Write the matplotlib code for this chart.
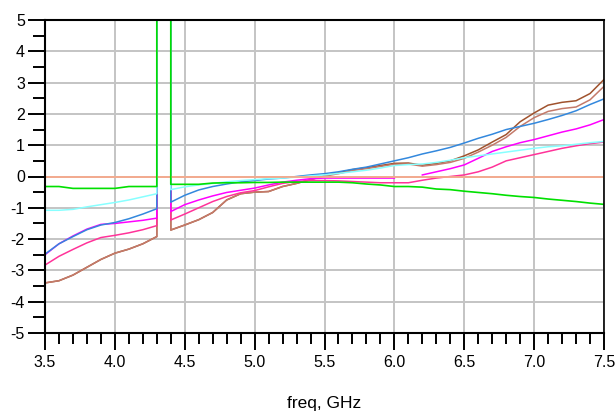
import numpy as np
import matplotlib
matplotlib.use("Agg")
import matplotlib.pyplot as plt
from matplotlib.ticker import MultipleLocator

plt.rcParams['font.family'] = ['Liberation Sans', 'DejaVu Sans']

# frequency grid (GHz): below and above the resonance gap
f_lo = [3.5, 3.6, 3.7, 3.8, 3.9, 4.0, 4.1, 4.2, 4.3]
f_hi = [4.4, 4.5, 4.6, 4.7, 4.8, 4.9, 5.0, 5.1, 5.2, 5.3, 5.4, 5.5, 5.6, 5.7, 5.8, 5.9,
        6.0, 6.1, 6.2, 6.3, 6.4, 6.5, 6.6, 6.7, 6.8, 6.9, 7.0, 7.1, 7.2, 7.3, 7.4, 7.5]
spike = 1000.0   # traces run off the top between 4.3 and 4.4 GHz
ref_level = 0.0

brown_lo = [-3.4, -3.33, -3.15, -2.9, -2.65, -2.45, -2.32, -2.15, -1.92]
brown_hi = [-1.71, -1.55, -1.38, -1.15, -0.75, -0.55, -0.5, -0.48, -0.32, -0.22, -0.1, 0.03,
            0.12, 0.22, 0.28, 0.35, 0.42, 0.43, 0.36, 0.42, 0.5, 0.66, 0.85, 1.1, 1.34, 1.75,
            2.03, 2.28, 2.37, 2.42, 2.65, 3.1]
rosy_lo = [-3.4, -3.33, -3.15, -2.9, -2.65, -2.45, -2.32, -2.15, -1.92]
rosy_hi = [-1.71, -1.55, -1.38, -1.15, -0.75, -0.55, -0.5, -0.48, -0.32, -0.22, -0.1, 0.01,
           0.09, 0.19, 0.25, 0.32, 0.39, 0.4, 0.33, 0.38, 0.45, 0.58, 0.78, 1.0, 1.25, 1.6,
           1.88, 2.08, 2.17, 2.22, 2.45, 2.88]
pink_lo = [-2.83, -2.55, -2.33, -2.12, -1.95, -1.88, -1.8, -1.7, -1.57]
pink_hi = [-1.39, -1.2, -1.0, -0.8, -0.64, -0.52, -0.45, -0.33, -0.22, -0.16, -0.13, -0.13,
           -0.14, -0.16, -0.18, -0.2, -0.2, -0.2, -0.12, -0.05, 0.0, 0.05, 0.15, 0.3, 0.5, 0.6,
           0.7, 0.8, 0.9, 0.98, 1.05, 1.1]
magenta_lo = [-2.5, -2.15, -1.9, -1.68, -1.53, -1.5, -1.45, -1.4, -1.33]
magenta_hi = [-1.12, -0.9, -0.75, -0.62, -0.51, -0.44, -0.37, -0.27, -0.18, -0.12, -0.07, -0.05,
              -0.05, -0.05, -0.05, -0.05, -0.05, np.nan, 0.05, 0.15, 0.25, 0.37, 0.58, 0.8, 0.95,
              1.08, 1.18, 1.3, 1.42, 1.52, 1.65, 1.82]
blue_lo = [-2.48, -2.15, -1.92, -1.7, -1.55, -1.47, -1.35, -1.2, -1.03]
blue_hi = [-0.82, -0.6, -0.43, -0.32, -0.24, -0.17, -0.13, -0.08, -0.05, 0.0, 0.05, 0.09,
           0.15, 0.23, 0.3, 0.4, 0.5, 0.6, 0.72, 0.82, 0.93, 1.07, 1.22, 1.35, 1.5, 1.6,
           1.7, 1.82, 1.95, 2.1, 2.3, 2.48]
cyan_lo = [-1.08, -1.08, -1.05, -0.97, -0.9, -0.83, -0.75, -0.65, -0.55]
cyan_hi = [-0.42, -0.33, -0.27, -0.22, -0.17, -0.13, -0.1, -0.07, -0.05, -0.02, 0.02, 0.05,
           0.1, 0.15, 0.2, 0.27, 0.35, 0.38, 0.4, 0.45, 0.52, 0.6, 0.66, 0.72, 0.78, 0.84,
           0.9, 0.95, 0.98, 1.03, 1.08, 1.12]
green_lo = [-0.32, -0.32, -0.38, -0.38, -0.38, -0.38, -0.32, -0.32, -0.32]
green_hi = [-0.25, -0.25, -0.25, -0.21, -0.2, -0.2, -0.19, -0.19, -0.18, -0.18, -0.18, -0.18,
            -0.18, -0.2, -0.24, -0.27, -0.32, -0.32, -0.34, -0.4, -0.42, -0.47, -0.51, -0.55,
            -0.6, -0.64, -0.67, -0.72, -0.76, -0.8, -0.85, -0.89]

x_ticks = [3.5, 4.0, 4.5, 5.0, 5.5, 6.0, 6.5, 7.0, 7.5]
x_labels = ['3.5', '4.0', '4.5', '5.0', '5.5', '6.0', '6.5', '7.0', '7.5']
y_ticks = [5, 4, 3, 2, 1, 0, -1, -2, -3, -4, -5]
y_labels = ['5', '4', '3', '2', '1', '0', '-1', '-2', '-3', '-4', '-5']


def trace(lo, hi):
    f = f_lo + [f_lo[-1], f_hi[0]] + f_hi
    v = lo + [spike, spike] + hi
    return f, v


fig = plt.figure(figsize=(6.16, 4.16), dpi=100)
ax = fig.add_axes([45/616, 83/416, 559/616, 313/416])

# draw lowest first so each vertical jump shows the colour of its own trace
series = [(brown_lo, brown_hi, '#A0522D'),
          (rosy_lo, rosy_hi, '#C47A6A'),
          (pink_lo, pink_hi, '#FF3399'),
          (magenta_lo, magenta_hi, '#FF00FF'),
          (blue_lo, blue_hi, '#3388DD'),
          (cyan_lo, cyan_hi, '#88FFFF')]
for lo, hi, col in series:
    f, v = trace(lo, hi)
    ax.plot(f, v, color=col, lw=1.1)

ax.axhline(ref_level, color='#F7A98B', lw=1.3)
f, v = trace(green_lo, green_hi)
ax.plot(f, v, color='#00E000', lw=1.2)

ax.set_xlim(3.5, 7.5)
ax.set_ylim(-5, 5)
ax.set_xticks(x_ticks)
ax.set_xticklabels(x_labels)
ax.set_yticks(y_ticks)
ax.set_yticklabels(y_labels)
ax.xaxis.set_minor_locator(MultipleLocator(0.1))
ax.yaxis.set_minor_locator(MultipleLocator(0.5))

ax.grid(True, which='major', color='#C4C4C4', lw=1.4)
ax.set_axisbelow(True)
ax.tick_params(axis='both', which='major', direction='out', length=12.5, width=1.4,
               labelsize=11.5, color='black')
ax.tick_params(axis='x', which='minor', direction='out', length=8, width=1.4)
ax.tick_params(axis='y', which='minor', direction='out', length=8.5, width=1.4)
ax.tick_params(axis='x', which='major', pad=3)
ax.tick_params(axis='y', which='major', pad=2)
for side in ['left', 'bottom', 'top']:
    ax.spines[side].set_linewidth(1.5)
ax.spines['right'].set_linewidth(1.2)

ax.set_xlabel('freq, GHz', fontsize=12.5, labelpad=19)

fig.savefig('out.png', dpi=100)
